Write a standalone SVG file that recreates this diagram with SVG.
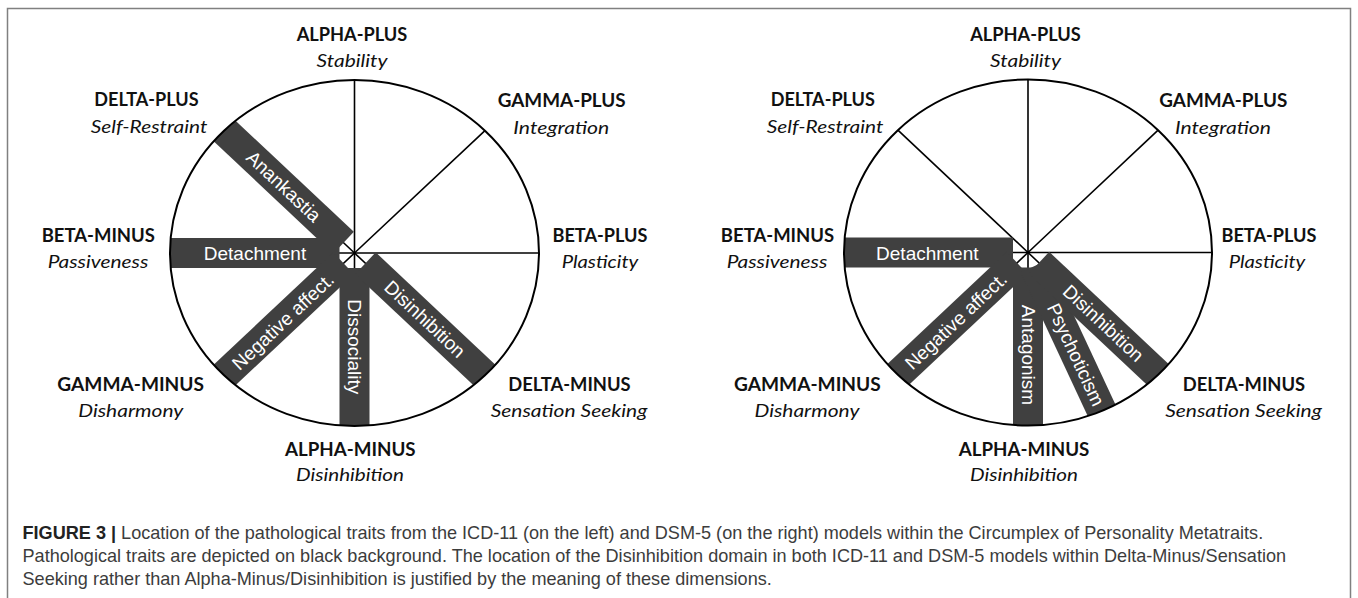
<svg xmlns="http://www.w3.org/2000/svg" width="1358" height="598" viewBox="0 0 1358 598">
<defs>
<style>
.lb{font-family:Lato,"Open Sans",sans-serif;font-weight:700;font-size:18px;fill:#111;text-anchor:middle}
.li{font-family:Lato,"Open Sans",sans-serif;font-style:italic;font-size:18px;fill:#111;text-anchor:middle}
.bt{font-family:"Liberation Sans",Arial,sans-serif;font-size:19px;fill:#fff;text-anchor:middle;dominant-baseline:central}
.band{fill:#404040}
.sp{stroke:#000;stroke-width:1.6;fill:none}
.el{fill:none;stroke:#000;stroke-width:2}
.cap{font-family:"Liberation Sans",Arial,sans-serif;font-size:18.1px;fill:#3c3c3c}
.frame{fill:none;stroke:#808080;stroke-width:1.5}
</style>
<clipPath id="clipL"><ellipse cx="354.5" cy="253" rx="184.5" ry="173"/></clipPath>
<clipPath id="clipR"><ellipse cx="1028" cy="252.5" rx="184" ry="173"/></clipPath>
</defs>
<rect width="1358" height="598" fill="#fff"/>
<path class="frame" d="M7.5 598 V8.5 H1350.5 V598"/>

<!-- LEFT: ICD-11 -->
<g id="left-model">
<ellipse cx="354.5" cy="253" rx="184.5" ry="173" fill="#fff"/>
<g id="connectors-left" class="sp">
<line x1="354.5" y1="253" x2="354.5" y2="80"/>
<line x1="354.5" y1="253" x2="484.96" y2="130.67"/>
<line x1="354.5" y1="253" x2="539" y2="253"/>
<line x1="354.5" y1="253" x2="484.96" y2="375.33"/>
<line x1="354.5" y1="253" x2="354.5" y2="426"/>
<line x1="354.5" y1="253" x2="224.04" y2="375.33"/>
<line x1="354.5" y1="253" x2="170" y2="253"/>
<line x1="354.5" y1="253" x2="224.04" y2="130.67"/>
</g>
<g clip-path="url(#clipL)">
<g id="L-anankastia"><rect class="band" x="15" y="-15" width="230" height="30" transform="translate(354.5,253) rotate(-136.8)"/><text class="bt" transform="translate(283.6,186.4) rotate(43.2)">Anankastia</text></g>
<g id="L-detachment"><rect class="band" x="15" y="-15" width="230" height="30" transform="translate(354.5,253) rotate(180)"/><text class="bt" x="255" y="253">Detachment</text></g>
<g id="L-negative-affect"><rect class="band" x="15" y="-15" width="230" height="30" transform="translate(354.5,253) rotate(136.8)"/><text class="bt" transform="translate(283,321.5) rotate(-43.2)">Negative affect.</text></g>
<g id="L-dissociality"><rect class="band" x="15" y="-15" width="230" height="30" transform="translate(354.5,253) rotate(90)"/><text class="bt" transform="translate(354.5,346.7) rotate(90)">Dissociality</text></g>
<g id="L-disinhibition"><rect class="band" x="15" y="-15" width="230" height="30" transform="translate(354.5,253) rotate(43.2)"/><text class="bt" transform="translate(424.9,319.1) rotate(43.2)">Disinhibition</text></g>
</g>
<ellipse class="el" cx="354.5" cy="253" rx="184.5" ry="173"/>
<g id="L-alpha-plus"><text class="lb" x="352" y="40.7" textLength="110.7" lengthAdjust="spacingAndGlyphs">ALPHA-PLUS</text><text class="li" x="352" y="66.7" textLength="71" lengthAdjust="spacingAndGlyphs">Stability</text></g>
<g id="L-delta-plus"><text class="lb" x="146.5" y="106" textLength="104.3" lengthAdjust="spacingAndGlyphs">DELTA-PLUS</text><text class="li" x="149" y="133" textLength="116.7" lengthAdjust="spacingAndGlyphs">Self-Restraint</text></g>
<g id="L-gamma-plus"><text class="lb" x="561.7" y="107" textLength="128" lengthAdjust="spacingAndGlyphs">GAMMA-PLUS</text><text class="li" x="561.3" y="134" textLength="96" lengthAdjust="spacingAndGlyphs">Integration</text></g>
<g id="L-beta-minus"><text class="lb" x="98.3" y="241.5" textLength="113.3" lengthAdjust="spacingAndGlyphs">BETA-MINUS</text><text class="li" x="98" y="267.5" textLength="100.7" lengthAdjust="spacingAndGlyphs">Passiveness</text></g>
<g id="L-beta-plus"><text class="lb" x="600" y="241.5" textLength="95" lengthAdjust="spacingAndGlyphs">BETA-PLUS</text><text class="li" x="600" y="267.5" textLength="76.7" lengthAdjust="spacingAndGlyphs">Plasticity</text></g>
<g id="L-gamma-minus"><text class="lb" x="130.7" y="391" textLength="146.7" lengthAdjust="spacingAndGlyphs">GAMMA-MINUS</text><text class="li" x="130.8" y="417" textLength="105" lengthAdjust="spacingAndGlyphs">Disharmony</text></g>
<g id="L-delta-minus"><text class="lb" x="569.5" y="391" textLength="122.3" lengthAdjust="spacingAndGlyphs">DELTA-MINUS</text><text class="li" x="569" y="417" textLength="156.7" lengthAdjust="spacingAndGlyphs">Sensation Seeking</text></g>
<g id="L-alpha-minus"><text class="lb" x="350.3" y="456" textLength="130.7" lengthAdjust="spacingAndGlyphs">ALPHA-MINUS</text><text class="li" x="350" y="481" textLength="108" lengthAdjust="spacingAndGlyphs">Disinhibition</text></g>
</g>

<!-- RIGHT: DSM-5 -->
<g id="right-model">
<ellipse cx="1028" cy="252.5" rx="184" ry="173" fill="#fff"/>
<g id="connectors-right" class="sp">
<line x1="1028" y1="252.5" x2="1028" y2="79.5"/>
<line x1="1028" y1="252.5" x2="1158.1" y2="130.2"/>
<line x1="1028" y1="252.5" x2="1212" y2="252.5"/>
<line x1="1028" y1="252.5" x2="1158.1" y2="374.8"/>
<line x1="1028" y1="252.5" x2="1028" y2="425.5"/>
<line x1="1028" y1="252.5" x2="897.9" y2="374.8"/>
<line x1="1028" y1="252.5" x2="844" y2="252.5"/>
<line x1="1028" y1="252.5" x2="897.9" y2="130.2"/>
</g>
<g clip-path="url(#clipR)">
<g id="R-detachment"><rect class="band" x="15" y="-15" width="230" height="30" transform="translate(1028,252.5) rotate(180)"/><text class="bt" x="927.3" y="253">Detachment</text></g>
<g id="R-negative-affect"><rect class="band" x="15" y="-15" width="230" height="30" transform="translate(1028,252.5) rotate(136.8)"/><text class="bt" transform="translate(956,321) rotate(-43.2)">Negative affect.</text></g>
<g id="R-antagonism"><rect class="band" x="15" y="-15" width="230" height="30" transform="translate(1028,252.5) rotate(90)"/><text class="bt" transform="translate(1028,355) rotate(90)">Antagonism</text></g>
<g id="R-psychoticism"><rect class="band" x="15" y="-15" width="230" height="30" transform="translate(1028,252.5) rotate(65)"/><text class="bt" transform="translate(1075.7,354.7) rotate(65)">Psychoticism</text></g>
<g id="R-disinhibition"><rect class="band" x="15" y="-15" width="230" height="30" transform="translate(1028,252.5) rotate(43.2)"/><text class="bt" transform="translate(1103.4,323.3) rotate(43.2)">Disinhibition</text></g>
</g>
<ellipse class="el" cx="1028" cy="252.5" rx="184" ry="173"/>
<g id="R-alpha-plus"><text class="lb" x="1025.5" y="40.7" textLength="110.7" lengthAdjust="spacingAndGlyphs">ALPHA-PLUS</text><text class="li" x="1025.5" y="66.7" textLength="71" lengthAdjust="spacingAndGlyphs">Stability</text></g>
<g id="R-delta-plus"><text class="lb" x="822.8" y="106" textLength="104.3" lengthAdjust="spacingAndGlyphs">DELTA-PLUS</text><text class="li" x="825" y="133" textLength="116.7" lengthAdjust="spacingAndGlyphs">Self-Restraint</text></g>
<g id="R-gamma-plus"><text class="lb" x="1223.3" y="107" textLength="128" lengthAdjust="spacingAndGlyphs">GAMMA-PLUS</text><text class="li" x="1223" y="134" textLength="96" lengthAdjust="spacingAndGlyphs">Integration</text></g>
<g id="R-beta-minus"><text class="lb" x="777.5" y="241.5" textLength="113.3" lengthAdjust="spacingAndGlyphs">BETA-MINUS</text><text class="li" x="777" y="267.5" textLength="100.7" lengthAdjust="spacingAndGlyphs">Passiveness</text></g>
<g id="R-beta-plus"><text class="lb" x="1269" y="241.5" textLength="95" lengthAdjust="spacingAndGlyphs">BETA-PLUS</text><text class="li" x="1267" y="267.5" textLength="76.7" lengthAdjust="spacingAndGlyphs">Plasticity</text></g>
<g id="R-gamma-minus"><text class="lb" x="807.4" y="391" textLength="146.7" lengthAdjust="spacingAndGlyphs">GAMMA-MINUS</text><text class="li" x="807" y="417" textLength="105" lengthAdjust="spacingAndGlyphs">Disharmony</text></g>
<g id="R-delta-minus"><text class="lb" x="1244" y="391" textLength="122.3" lengthAdjust="spacingAndGlyphs">DELTA-MINUS</text><text class="li" x="1243.5" y="417" textLength="156.7" lengthAdjust="spacingAndGlyphs">Sensation Seeking</text></g>
<g id="R-alpha-minus"><text class="lb" x="1024" y="456" textLength="130.7" lengthAdjust="spacingAndGlyphs">ALPHA-MINUS</text><text class="li" x="1024" y="481" textLength="108" lengthAdjust="spacingAndGlyphs">Disinhibition</text></g>
</g>

<g id="caption" class="cap">
<text x="22.5" y="539"><tspan font-weight="bold" fill="#222">FIGURE 3 |</tspan> Location of the pathological traits from the ICD-11 (on the left) and DSM-5 (on the right) models within the Circumplex of Personality Metatraits.</text>
<text x="22.5" y="562">Pathological traits are depicted on black background. The location of the Disinhibition domain in both ICD-11 and DSM-5 models within Delta-Minus/Sensation</text>
<text x="22.5" y="585">Seeking rather than Alpha-Minus/Disinhibition is justified by the meaning of these dimensions.</text>
</g>
</svg>
